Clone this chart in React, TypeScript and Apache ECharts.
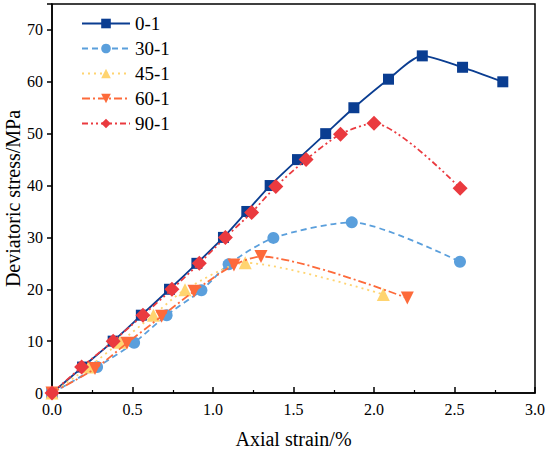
import React, { useEffect, useRef } from "react";
import * as echarts from "echarts";

const seriesNames = ["0-1", "30-1", "45-1", "60-1", "90-1"];

const data01: number[][] = [
  [0, 0], [0.19, 5], [0.38, 10], [0.555, 15], [0.73, 20], [0.9, 25], [1.065, 30],
  [1.21, 35], [1.355, 40], [1.525, 45], [1.7, 50], [1.875, 55], [2.09, 60.5],
  [2.3, 65], [2.55, 62.8], [2.8, 60],
];
const data301: number[][] = [
  [0, 0], [0.28, 5], [0.51, 9.7], [0.712, 15], [0.928, 19.8], [1.097, 24.8],
  [1.375, 29.9], [1.862, 32.9], [2.534, 25.3],
];
const data451: number[][] = [
  [0, 0], [0.228, 5], [0.422, 9.8], [0.63, 15], [0.826, 19.9], [1.2, 25.1], [2.058, 19.0],
];
const data601: number[][] = [
  [0, 0], [0.267, 4.7], [0.465, 9.6], [0.681, 14.8], [0.882, 19.6], [1.13, 24.7],
  [1.298, 26.3], [2.207, 18.3],
];
const data901: number[][] = [
  [0, 0], [0.184, 5], [0.38, 10], [0.565, 15], [0.745, 20], [0.915, 25], [1.077, 30],
  [1.24, 34.8], [1.39, 39.8], [1.578, 45], [1.792, 49.9], [2.0, 52], [2.535, 39.5],
];

const yTicks = [0, 10, 20, 30, 40, 50, 60, 70];

const FONT = "'Liberation Serif', 'Times New Roman', serif";

export default function App() {
  const ref = useRef<HTMLDivElement>(null);
  useEffect(() => {
    if (!ref.current) return;
    const chart = echarts.init(ref.current, null, { renderer: "svg" });
    const mk = (
      name: string,
      data: number[][],
      color: string,
      symbol: string,
      lineType: any,
      size: number,
      rotate = 0,
      z = 2
    ) => ({
      name,
      type: "line",
      data,
      smooth: 0.25,
      symbol,
      symbolSize: size,
      symbolRotate: rotate,
      showAllSymbol: true,
      z,
      itemStyle: { color },
      lineStyle: { color, width: 1.8, type: lineType },
    });
    chart.setOption({
      animation: false,
      backgroundColor: "#fff",
      textStyle: { fontFamily: FONT },
      grid: {
        left: 52,
        right: 15,
        top: 4,
        bottom: 59,
        outerBoundsMode: "none",
        containLabel: false,
        show: true,
        borderColor: "#000",
        borderWidth: 1.5,
      },
      legend: {
        orient: "vertical",
        left: 76,
        top: 9,
        itemWidth: 48,
        itemHeight: 12,
        itemGap: 6,
        textStyle: { fontFamily: FONT, fontSize: 19, color: "#000" },
        data: seriesNames,
      },
      xAxis: {
        type: "value",
        min: 0,
        max: 3,
        interval: 0.5,
        name: "Axial strain/%",
        nameLocation: "middle",
        nameGap: 36,
        nameMoveOverlap: false,
        nameTextStyle: { fontFamily: FONT, fontSize: 20, color: "#000" },
        axisLine: { lineStyle: { color: "#000", width: 1.5 } },
        axisTick: { inside: true, length: 6, lineStyle: { color: "#000", width: 1.5 } },
        minorTick: { show: true, splitNumber: 2, length: 3, lineStyle: { color: "#000", width: 1.2 } },
        splitLine: { show: false },
        axisLabel: {
          fontFamily: FONT,
          fontSize: 16,
          color: "#000",
          margin: 8,
          formatter: (v: number) => v.toFixed(1),
        },
      },
      yAxis: {
        type: "value",
        min: 0,
        max: 75,
        interval: 10,
        name: "Deviatoric stress/MPa",
        nameLocation: "middle",
        nameGap: 29,
        nameMoveOverlap: false,
        nameTextStyle: { fontFamily: FONT, fontSize: 20, color: "#000" },
        axisLine: { show: true, lineStyle: { color: "#000", width: 1.5 } },
        axisTick: { show: true, inside: false, length: 5, lineStyle: { color: "#000", width: 1.5 } },
        splitLine: { show: false },
        axisLabel: {
          fontFamily: FONT,
          fontSize: 16,
          color: "#000",
          margin: 9,
          customValues: yTicks,
        },
      },
      series: [
        mk(seriesNames[0], data01, "#0a3d91", "rect", "solid", 11, 0, 2),
        mk(seriesNames[1], data301, "#5a9fdc", "circle", [6, 4], 12, 0, 3),
        mk(seriesNames[2], data451, "#ffd470", "triangle", [2, 4], 13, 0, 4),
        mk(seriesNames[3], data601, "#fd6a3a", "triangle", [8, 3, 2, 3], 13, 180, 5),
        mk(seriesNames[4], data901, "#ea3a3f", "diamond", [6, 3, 2, 3, 2, 3], 15, 0, 6),
      ],
    });
    return () => chart.dispose();
  }, []);
  return (
    <div
      ref={ref}
      style={{ position: "absolute", left: 0, top: 0, width: 550, height: 452 }}
    />
  );
}
